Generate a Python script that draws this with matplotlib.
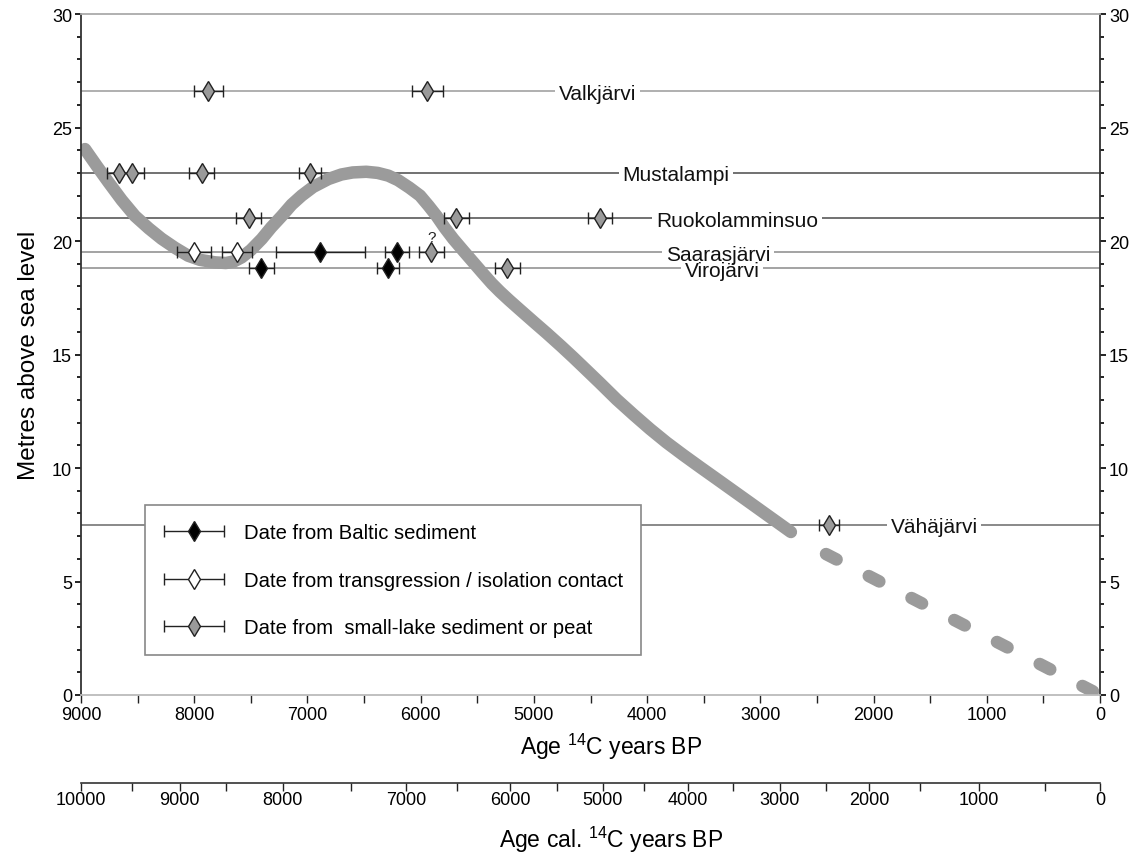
import matplotlib
matplotlib.use("Agg")
import matplotlib.pyplot as plt
from matplotlib.ticker import MultipleLocator
from matplotlib.container import ErrorbarContainer
from matplotlib.legend_handler import HandlerErrorbar

plt.rcParams['font.family'] = ['Liberation Sans', 'DejaVu Sans']
plt.rcParams['mathtext.fontset'] = 'custom'
plt.rcParams['mathtext.rm'] = 'Liberation Sans'
plt.rcParams['mathtext.it'] = 'Liberation Sans:italic'
plt.rcParams['lines.scale_dashes'] = False

# ---------------- data ----------------
site_names = ['Valkjärvi', 'Mustalampi', 'Ruokolamminsuo', 'Saarasjärvi', 'Virojärvi', 'Vähäjärvi']
site_levels = [26.6, 23.0, 21.0, 19.5, 18.8, 7.5]
site_label_age = [4440, 3745, 3206, 3374, 3339, 1466]
site_line_colors = ['#9a9a9a', '#4a4a4a', '#4a4a4a', '#8a8a8a', '#8a8a8a', '#6a6a6a']

# Dates from Baltic sediment (black)
baltic_age = [6885, 6207, 7407, 6288]
baltic_err = [390, 105, 113, 98]
baltic_level = [19.5, 19.5, 18.8, 18.8]

# Dates from transgression / isolation contact (white)
contact_age = [8003, 7623]
contact_err = [150, 130]
contact_level = [19.5, 19.5]

# Dates from small-lake sediment or peat (grey)
lake_age = [7875, 5941, 8661, 8546, 7934, 6977, 7518, 5686, 4419, 5906, 5237, 2393]
lake_err = [130, 135, 105, 103, 110, 100, 110, 110, 105, 110, 110, 90]
lake_level = [26.6, 26.6, 23.0, 23.0, 23.0, 23.0, 21.0, 21.0, 21.0, 19.5, 18.8, 7.5]

question_age = 5906
question_level = 19.5

# Shore-level curve (solid part)
curve_age = [8965, 8860, 8759, 8640, 8523, 8400, 8288, 8170, 8053, 7950, 7817, 7720,
             7650, 7581, 7500, 7404, 7320, 7227, 7140, 7051, 6950, 6815, 6700, 6600,
             6480, 6380, 6286, 6200, 6100, 6006, 5930, 5859, 5790, 5712, 5620, 5535,
             5450, 5370, 5300, 5220, 5123, 5000, 4887, 4760, 4652, 4564, 4420, 4269,
             4120, 3975, 3830, 3680, 3530, 3386, 3240, 3091, 2940, 2797, 2730]
curve_level = [24.05, 23.3, 22.6, 21.8, 21.1, 20.55, 20.1, 19.7, 19.35, 19.17, 19.06, 19.03,
               19.1, 19.28, 19.6, 20.09, 20.6, 21.1, 21.6, 22.0, 22.38, 22.73, 22.93, 23.02,
               23.05, 23.0, 22.88, 22.68, 22.35, 22.0, 21.55, 21.1, 20.6, 20.09, 19.55, 19.06,
               18.57, 18.12, 17.77, 17.40, 16.97, 16.43, 15.94, 15.37, 14.87, 14.45, 13.76, 13.02,
               12.35, 11.72, 11.13, 10.57, 10.03, 9.52, 9.0, 8.47, 7.93, 7.42, 7.18]
# Extrapolated (dashed) part
dash_age = [2420, 0]
dash_level = [6.21, 0.0]

# Calibrated age axis: labels and their radiocarbon-age positions
cal_major_labels = ['10000', '9000', '8000', '7000', '6000', '5000', '4000', '3000', '2000', '1000', '0']
cal_major_pos = [9000, 8127, 7217, 6131, 5212, 4391, 3640, 2827, 2041, 1069, 0]
cal_minor_pos = [8551, 7721, 6617, 5680, 4797, 4028, 3242, 2420, 1590, 486]

legend_labels = ['Date from Baltic sediment',
                 'Date from transgression / isolation contact',
                 'Date from  small-lake sediment or peat']

# ---------------- figure ----------------
W, H = 1133, 853
fig = plt.figure(figsize=(W / 100, H / 100), dpi=100)
L, R = 81 / W, 1100 / W
ax = fig.add_axes([L, 1 - 696 / H, R - L, (696 - 15) / H])
ax.set_xlim(9000, 0)
ax.set_ylim(0, 30)

curve_col = '#9b9b9b'

for lvl, col in zip(site_levels, site_line_colors):
    ax.axhline(lvl, color=col, lw=1.1, zorder=1)
# white gaps in the site lines behind the names, then the names themselves
for name, x, lvl in zip(site_names, site_label_age, site_levels):
    ax.text(x, lvl, name, ha='center', va='center_baseline', fontsize=15, color='none',
            bbox=dict(fc='white', ec='none', pad=2.5), zorder=1.4)
for name, x, lvl in zip(site_names, site_label_age, site_levels):
    ax.text(x, lvl, name, ha='center', va='center_baseline', fontsize=15, color='#111',
            zorder=1.6)

ax.plot(curve_age, curve_level, color=curve_col, lw=9.0, solid_capstyle='round',
        solid_joinstyle='round', zorder=2)
ax.plot(dash_age, dash_level, color=curve_col, lw=9.0, linestyle=(0, (8.6, 26.0)),
        dash_capstyle='round', zorder=2)

eb_kw = dict(fmt='d', ms=9.8, mec='#222', mew=1.0, ecolor='#222', elinewidth=1.0,
             capsize=4.3, capthick=1.1, zorder=3)
h1 = ax.errorbar(baltic_age, baltic_level, xerr=baltic_err, mfc='black', **eb_kw)
h2 = ax.errorbar(contact_age, contact_level, xerr=contact_err, mfc='white', **eb_kw)
h3 = ax.errorbar(lake_age, lake_level, xerr=lake_err, mfc='#9a9a9a', **eb_kw)

ax.annotate('?', (question_age, question_level), xytext=(0, 11), textcoords='offset points',
            ha='center', va='center', fontsize=11, color='#222', zorder=4)

leg = ax.legend([h1, h2, h3], legend_labels, loc='upper left',
                bbox_to_anchor=((145 - 81) / 1019, (696 - 506) / 681), borderaxespad=0,
                fontsize=14.6, frameon=True, fancybox=False, framealpha=1, edgecolor='#888',
                borderpad=0.88, labelspacing=1.42, handlelength=3.05, handletextpad=0.95,
                handler_map={ErrorbarContainer: HandlerErrorbar(xerr_size=1.48)})
leg.get_frame().set_linewidth(1.2)
leg.set_zorder(5)

# spines and ticks
for s in ['left', 'right']:
    ax.spines[s].set_color('#333')
    ax.spines[s].set_linewidth(1.3)
ax.spines['top'].set_color('#aaaaaa')
ax.spines['bottom'].set_color('#bbbbbb')
ax.spines['top'].set_linewidth(1.3)
ax.spines['bottom'].set_linewidth(1.3)

ax.xaxis.set_major_locator(MultipleLocator(1000))
ax.xaxis.set_minor_locator(MultipleLocator(500))
ax.yaxis.set_major_locator(MultipleLocator(5))
ax.yaxis.set_minor_locator(MultipleLocator(1))
ax.tick_params(axis='x', which='both', direction='out', length=5.8, width=1.0,
               color='#222', pad=2, labelsize=13)
ax.tick_params(axis='y', which='both', direction='out', left=True, right=True,
               labelleft=True, labelright=True, color='#222', width=1.4, labelsize=13, pad=2)
ax.tick_params(axis='y', which='major', length=4.5)
ax.tick_params(axis='y', which='minor', length=3)

ax.set_xlabel('Age $^{14}$C years BP', fontsize=16.5)
ax.xaxis.set_label_coords(0.52, -0.052)
ax.set_ylabel('Metres above sea level', fontsize=17.5)
ax.yaxis.set_label_coords(-0.040, 0.5)

# calibrated axis
ax2 = fig.add_axes([L, 1 - 784 / H, R - L, 0.0005])
ax2.set_xlim(9000, 0)
ax2.patch.set_visible(False)
for s in ['left', 'right', 'top']:
    ax2.spines[s].set_visible(False)
ax2.spines['bottom'].set_color('#333')
ax2.spines['bottom'].set_linewidth(1.2)
ax2.set_yticks([])
ax2.set_xticks(cal_major_pos, labels=cal_major_labels)
ax2.set_xticks(cal_minor_pos, minor=True)
ax2.tick_params(axis='x', which='both', direction='out', length=5.5, width=1.0,
                color='#222', pad=0.5, labelsize=13)
ax2.set_xlabel('Age cal. $^{14}$C years BP', fontsize=16.5)
ax2.xaxis.set_label_coords(L + 0.52 * (R - L), 1 - 825 / H, transform=fig.transFigure)

fig.savefig('out.png', dpi=100)
